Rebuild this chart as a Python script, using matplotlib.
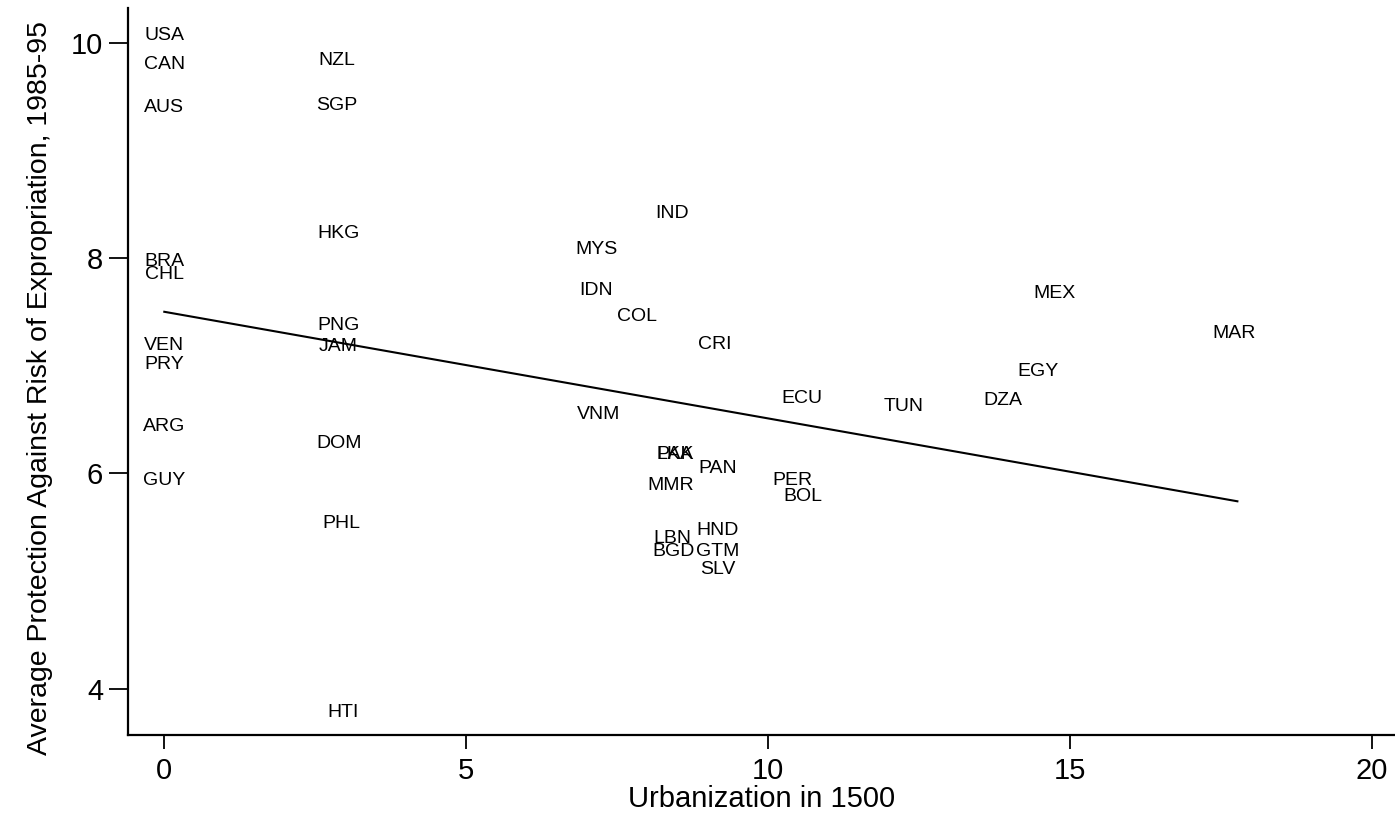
import matplotlib
matplotlib.use('Agg')
import matplotlib.pyplot as plt

# country codes, urbanization in 1500 (x) and average protection 1985-95 (y)
countries = ['USA', 'CAN', 'AUS', 'NZL', 'SGP', 'HKG', 'IND', 'MYS', 'BRA', 'CHL',
             'IDN', 'COL', 'MEX', 'MAR', 'PNG', 'JAM', 'CRI', 'VEN', 'PRY', 'EGY',
             'ECU', 'TUN', 'DZA', 'VNM', 'ARG', 'DOM', 'LKA', 'PAK', 'PAN', 'MMR',
             'GUY', 'PER', 'BOL', 'PHL', 'HND', 'LBN', 'BGD', 'GTM', 'SLV', 'HTI']
urban = [0.0, 0.0, 0.0, 2.85, 2.85, 2.88, 8.41, 7.15, 0.0, 0.0,
         7.15, 7.83, 14.74, 17.72, 2.88, 2.88, 9.12, 0.0, 0.0, 14.47,
         10.55, 12.24, 13.89, 7.19, 0.0, 2.9, 8.46, 8.46, 9.16, 8.39,
         0.0, 10.41, 10.58, 2.93, 9.17, 8.41, 8.43, 9.17, 9.17, 2.96]
protect = [10.07, 9.80, 9.40, 9.83, 9.42, 8.23, 8.41, 8.08, 7.97, 7.85,
           7.70, 7.46, 7.67, 7.30, 7.37, 7.18, 7.20, 7.19, 7.01, 6.95,
           6.69, 6.62, 6.68, 6.55, 6.43, 6.28, 6.17, 6.17, 6.04, 5.89,
           5.93, 5.93, 5.78, 5.53, 5.47, 5.39, 5.27, 5.27, 5.11, 3.78]

# fitted regression line (end points)
fit_x = [0.0, 17.77]
fit_y = [7.50, 5.74]

xticks = [0, 5, 10, 15, 20]
yticks = [4, 6, 8, 10]

plt.rcParams['font.family'] = ['Liberation Sans', 'DejaVu Sans']

fig = plt.figure(figsize=(13.95, 8.13), dpi=100)
ax = fig.add_axes([0.0918, 0.096, 0.9082, 0.894])

for name, x, y in zip(countries, urban, protect):
    ax.text(x, y, name, fontsize=14, ha='center', va='center', color='black')

ax.plot(fit_x, fit_y, color='black', lw=1.5)

ax.set_xlim(-0.6, 20.38)
ax.set_ylim(3.57, 10.32)
ax.set_xticks(xticks)
ax.set_yticks(yticks)

ax.spines['top'].set_visible(False)
ax.spines['right'].set_visible(False)
for s in ['left', 'bottom']:
    ax.spines[s].set_linewidth(1.6)

ax.tick_params(axis='y', direction='out', length=14, width=1.3, pad=4, labelsize=21)
ax.tick_params(axis='x', direction='out', length=10, width=1.3, pad=6, labelsize=21)

ax.set_xlabel('Urbanization in 1500', fontsize=21, labelpad=0)
ax.set_ylabel('Average Protection Against Risk of Expropriation, 1985-95', fontsize=20.5)
ax.yaxis.set_label_coords(-0.059, 0.477)

fig.savefig('out.png', dpi=100)
